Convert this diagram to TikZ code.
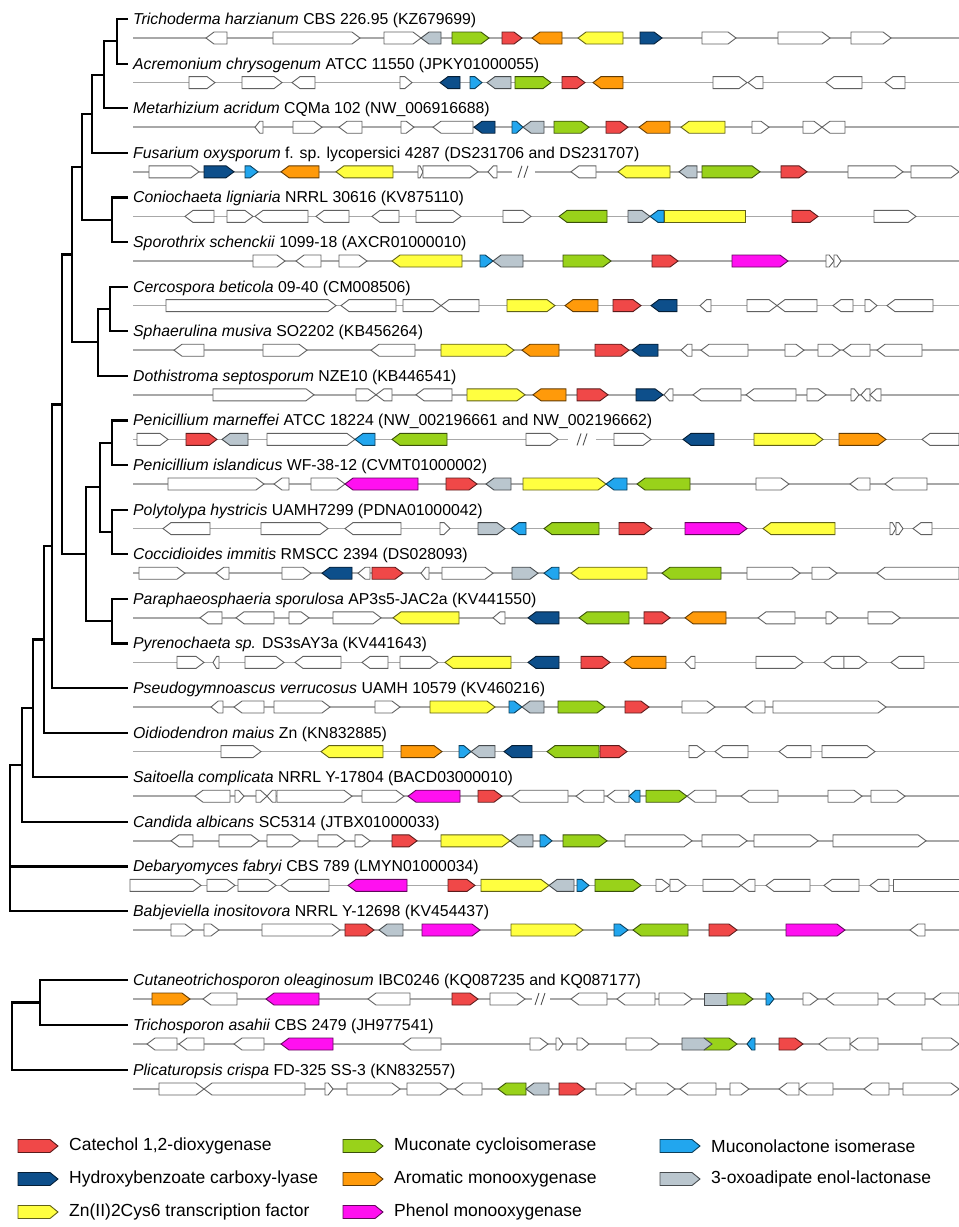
\documentclass[tikz,border=0pt]{standalone}
\usepackage{fontspec}
\setmainfont{Liberation Sans}
\definecolor{cRed}{HTML}{F04848}
\definecolor{cGrn}{HTML}{99D21A}
\definecolor{cOrg}{HTML}{FF9A0A}
\definecolor{cYel}{HTML}{FFFF40}
\definecolor{cDbl}{HTML}{0D4F8B}
\definecolor{cLbl}{HTML}{22A6EE}
\definecolor{cGry}{HTML}{BAC6CE}
\definecolor{cMag}{HTML}{FF10F0}
\definecolor{cOut}{HTML}{4D4D4D}
\definecolor{cLine}{HTML}{A8A8A8}
\tikzset{
 gene/.style={line width=0.9pt,line join=miter},
 bb/.style={draw=cLine,line width=1.6pt},
 sl/.style={draw=cOut,line width=0.9pt},
 tree/.style={draw=black,line width=2.2pt,line join=miter},
 lab/.style={anchor=base west,inner sep=0pt,font=\fontsize{15.8}{18}\selectfont},
 leg/.style={anchor=west,inner sep=0pt,font=\fontsize{17.5}{20}\selectfont},
}
\newcommand\GR[3]{\pgfmathsetmacro\gtip{min(8,0.6*(#2-#1))}%
 \filldraw[gene,fill=#3,draw=#3!38!black] (#1,\Y-6) -- ({#2-\gtip},\Y-6) -- (#2,\Y) -- ({#2-\gtip},\Y+6) -- (#1,\Y+6) -- cycle;}
\newcommand\GL[3]{\pgfmathsetmacro\gtip{min(8,0.6*(#2-#1))}%
 \filldraw[gene,fill=#3,draw=#3!38!black] (#2,\Y-6) -- ({#1+\gtip},\Y-6) -- (#1,\Y) -- ({#1+\gtip},\Y+6) -- (#2,\Y+6) -- cycle;}
\newcommand\GB[3]{\filldraw[gene,fill=#3,draw=#3!38!black] (#1,\Y-6) rectangle (#2,\Y+6);}
\newcommand\BL[2]{\draw[bb] (#1,\Y) -- (#2,\Y);}
\newcommand\SL[1]{\draw[sl] ({#1-5},\Y+6) -- ({#1-1},\Y-6) ({#1+1},\Y+6) -- ({#1+5},\Y-6);}
\newcommand\LB[3]{\node[lab] (t#1) at (133,#2-13.5) {#3};\coordinate (l#1) at (128,#2-19);}
\newcommand\LG[4]{\def\Y{#2}\filldraw[gene,fill=#3,draw=#3!38!black] (#1,\Y-6.5) -- (#1+32,\Y-6.5) -- (#1+40,\Y) -- (#1+32,\Y+6.5) -- (#1,\Y+6.5) -- cycle;
 \node[leg] at (#1+51,#2) {#4};}
\begin{document}
\begin{tikzpicture}[x=1pt,y=-1pt]
\useasboundingbox (0,0) rectangle (959,1227);
\fill[white] (0,0) rectangle (959,1227);
% ---------- labels ----------
\LB{0}{38}{\textit{Trichoderma harzianum} CBS 226.95 (KZ679699)}
\LB{1}{82.6}{\textit{Acremonium chrysogenum} ATCC 11550 (JPKY01000055)}
\LB{2}{127.2}{\textit{Metarhizium acridum} CQMa 102 (NW\_006916688)}
\LB{3}{171.8}{\textit{Fusarium oxysporum} f. sp. lycopersici 4287 (DS231706 and DS231707)}
\LB{4}{216.4}{\textit{Coniochaeta ligniaria} NRRL 30616 (KV875110)}
\LB{5}{261}{\textit{Sporothrix schenckii} 1099-18 (AXCR01000010)}
\LB{6}{305.6}{\textit{Cercospora beticola} 09-40 (CM008506)}
\LB{7}{350.2}{\textit{Sphaerulina musiva} SO2202 (KB456264)}
\LB{8}{394.8}{\textit{Dothistroma septosporum} NZE10 (KB446541)}
\LB{9}{439.4}{\textit{Penicillium marneffei} ATCC 18224 (NW\_002196661 and NW\_002196662)}
\LB{10}{484}{\textit{Penicillium islandicus} WF-38-12 (CVMT01000002)}
\LB{11}{528.6}{\textit{Polytolypa hystricis} UAMH7299 (PDNA01000042)}
\LB{12}{573.2}{\textit{Coccidioides immitis} RMSCC 2394 (DS028093)}
\LB{13}{617.8}{\textit{Paraphaeosphaeria sporulosa} AP3s5-JAC2a (KV441550)}
\LB{14}{662.4}{\textit{Pyrenochaeta sp.} DS3sAY3a (KV441643)}
\LB{15}{707}{\textit{Pseudogymnoascus verrucosus} UAMH 10579 (KV460216)}
\LB{16}{751.6}{\textit{Oidiodendron maius} Zn (KN832885)}
\LB{17}{796.2}{\textit{Saitoella complicata} NRRL Y-17804 (BACD03000010)}
\LB{18}{840.8}{\textit{Candida albicans} SC5314 (JTBX01000033)}
\LB{19}{885.4}{\textit{Debaryomyces fabryi} CBS 789 (LMYN01000034)}
\LB{20}{930}{\textit{Babjeviella inositovora} NRRL Y-12698 (KV454437)}
\LB{21}{999}{\textit{Cutaneotrichosporon oleaginosum} IBC0246 (KQ087235 and KQ087177)}
\LB{22}{1044}{\textit{Trichosporon asahii} CBS 2479 (JH977541)}
\LB{23}{1089}{\textit{Plicaturopsis crispa} FD-325 SS-3 (KN832557)}
% ---------- tree ----------
\coordinate (a01) at (117,41.3);
\coordinate (a012) at (104,74.75);
\coordinate (a0123) at (92,113.8);
\coordinate (a45) at (112,219.7);
\coordinate (aS) at (82,166.75);
\coordinate (a67) at (110,308.9);
\coordinate (a678) at (98,342.35);
\coordinate (aSD) at (72,254.55);
\coordinate (a910) at (112,442.7);
\coordinate (a1112) at (112,531.9);
\coordinate (aE) at (100,487.3);
\coordinate (a1314) at (112,621.1);
\coordinate (aE2) at (86,554.2);
\coordinate (aP) at (62,404.4);
\coordinate (a15) at (52,546.2);
\coordinate (a16) at (44,639.4);
\coordinate (a17) at (33,708.3);
\coordinate (a18) at (22,765);
\coordinate (root) at (10,866.4);
\coordinate (b2122) at (40,1002.5);
\coordinate (broot) at (12,1036.25);
\draw[tree] (l0) -| (a01) |- (l1);
\draw[tree] (a01) -| (a012) |- (l2);
\draw[tree] (a012) -| (a0123) |- (l3);
\draw[tree] (l4) -| (a45) |- (l5);
\draw[tree] (a0123) -| (aS) |- (a45);
\draw[tree] (l6) -| (a67) |- (l7);
\draw[tree] (a67) -| (a678) |- (l8);
\draw[tree] (aS) -| (aSD) |- (a678);
\draw[tree] (l9) -| (a910) |- (l10);
\draw[tree] (l11) -| (a1112) |- (l12);
\draw[tree] (a910) -| (aE) |- (a1112);
\draw[tree] (l13) -| (a1314) |- (l14);
\draw[tree] (aE) -| (aE2) |- (a1314);
\draw[tree] (aSD) -| (aP) |- (aE2);
\draw[tree] (aP) -| (a15) |- (l15);
\draw[tree] (a15) -| (a16) |- (l16);
\draw[tree] (a16) -| (a17) |- (l17);
\draw[tree] (a17) -| (a18) |- (l18);
\draw[tree] (a18) -| (root) |- (l20);
\draw[tree] (root) -- (l19);
\draw[tree] (l21) -| (b2122) |- (l22);
\draw[tree] (b2122) -| (broot) |- (l23);
% ---------- rows ----------
\def\Y{38}\BL{133}{959}
\GL{206}{227}{white}\GR{273}{360}{white}\GR{384}{421}{white}\GL{421}{441}{cGry}
\GR{452}{489}{cGrn}\GR{502}{522}{cRed}\GL{532}{562}{cOrg}\GL{578}{623}{cYel}
\GR{640}{662}{cDbl}\GR{702}{736}{white}\GR{778}{830}{white}\GR{851}{891}{white}
\def\Y{82.6}\BL{133}{959}
\GR{189}{215}{white}\GR{242}{282}{white}\GL{292}{315}{white}\GR{400}{412}{white}
\GL{440}{460}{cDbl}\GR{470}{482}{cLbl}\GL{487}{511}{cGry}\GR{515}{551}{cGrn}
\GR{562}{585}{cRed}\GL{593}{623}{cOrg}\GR{713}{747}{white}\GL{748}{763}{white}
\GL{826}{862}{white}\GL{885}{905}{white}
\def\Y{127.2}\BL{133}{959}
\GL{255}{263}{white}\GR{293}{322}{white}\GL{339}{362}{white}\GR{401}{414}{white}
\GL{433}{473}{white}\GL{474}{495}{cDbl}\GR{512}{523}{cLbl}\GL{523}{544}{cGry}
\GR{554}{589}{cGrn}\GR{606}{628}{cRed}\GL{639}{670}{cOrg}\GL{681}{725}{cYel}
\GR{752}{769}{white}\GR{803}{822}{white}\GL{822}{845}{white}
\def\Y{171.8}\BL{133}{512}\BL{535}{959}\SL{523}
\GR{149}{199}{white}\GR{204}{234}{cDbl}\GR{245}{258}{cLbl}\GL{281}{319}{cOrg}
\GL{336}{393}{cYel}\GR{418}{423}{white}\GR{423}{478}{white}\GL{488}{497}{white}
\GL{571}{596}{white}\GL{618}{670}{cYel}\GL{679}{697}{cGry}\GR{702}{760}{cGrn}
\GR{781}{807}{cRed}\GR{848}{903}{white}\GR{911}{959}{white}
\def\Y{216.4}\BL{133}{959}
\GL{185}{214}{white}\GR{227}{253}{white}\GL{255}{308}{white}\GL{316}{349}{white}
\GL{372}{399}{white}\GR{416}{461}{white}\GR{503}{531}{white}\GL{559}{607}{cGrn}
\GR{628}{650}{cGry}\GL{650}{664}{cLbl}\GB{664}{745}{cYel}\GR{792}{818}{cRed}
\GR{874}{916}{white}
\def\Y{261}\BL{133}{959}
\GR{253}{285}{white}\GL{296}{321}{white}\GR{339}{367}{white}\GL{392}{462}{cYel}
\GR{480}{493}{cLbl}\GL{493}{523}{cGry}\GR{563}{611}{cGrn}\GR{652}{678}{cRed}
\GR{732}{788}{cMag}\GR{826}{834}{white}\GR{834}{841}{white}
\def\Y{305.6}\BL{133}{959}
\GR{166}{336}{white}\GL{341}{396}{white}\GR{403}{441}{white}\GL{441}{479}{white}
\GR{507}{555}{cYel}\GL{565}{598}{cOrg}\GR{613}{641}{cRed}\GL{651}{677}{cDbl}
\GL{700}{711}{white}\GR{747}{777}{white}\GL{777}{817}{white}\GL{833}{853}{white}
\GR{865}{877}{white}\GL{887}{933}{white}
\def\Y{350.2}\BL{133}{959}
\GL{174}{204}{white}\GR{263}{307}{white}\GL{371}{415}{white}\GR{441}{514}{cYel}
\GL{522}{559}{cOrg}\GR{595}{629}{cRed}\GL{632}{658}{cDbl}\GL{681}{692}{white}
\GL{701}{748}{white}\GR{785}{804}{white}\GR{818}{840}{white}\GL{843}{870}{white}
\GL{877}{922}{white}
\def\Y{394.8}\BL{133}{959}
\GR{213}{314}{white}\GR{356}{376}{white}\GL{376}{392}{white}\GL{416}{452}{white}
\GR{467}{525}{cYel}\GL{533}{566}{cOrg}\GR{577}{608}{cRed}\GR{636}{663}{cDbl}
\GL{664}{673}{white}\GL{693}{741}{white}\GL{746}{796}{white}\GR{807}{826}{white}
\GR{851}{859}{white}\GL{861}{870}{white}\GL{870}{881}{white}
\def\Y{439.4}\BL{133}{568}\BL{596}{959}\SL{582}
\GR{137}{168}{white}\GR{186}{217}{cRed}\GL{222}{248}{cGry}\GR{267}{355}{white}
\GL{355}{375}{cLbl}\GL{392}{447}{cGrn}\GR{526}{558}{white}\GR{614}{651}{white}
\GL{683}{714}{cDbl}\GR{754}{823}{cYel}\GR{839}{886}{cOrg}\GL{922}{959}{white}
\def\Y{484}\BL{133}{959}
\GR{168}{264}{white}\GL{274}{289}{white}\GR{311}{345}{white}\GL{345}{418}{cMag}
\GR{446}{477}{cRed}\GL{486}{511}{cGry}\GR{523}{606}{cYel}\GL{606}{627}{cLbl}
\GL{637}{690}{cGrn}\GR{756}{789}{white}\GL{850}{870}{white}\GL{885}{927}{white}
\def\Y{528.6}\BL{133}{959}
\GL{163}{210}{white}\GR{261}{328}{white}\GL{345}{401}{white}\GR{440}{450}{white}
\GR{478}{505}{cGry}\GL{511}{526}{cLbl}\GL{544}{599}{cGrn}\GR{619}{652}{cRed}
\GR{685}{747}{cMag}\GL{763}{835}{cYel}\GR{890}{896}{white}\GR{896}{903}{white}
\GL{913}{932}{white}
\def\Y{573.2}\BL{133}{959}
\GR{139}{185}{white}\GL{216}{229}{white}\GR{282}{311}{white}\GL{322}{352}{cDbl}
\GL{358}{370}{white}\GR{372}{403}{cRed}\GL{421}{429}{white}\GR{442}{493}{white}
\GR{512}{538}{cGry}\GL{544}{559}{cLbl}\GL{571}{647}{cYel}\GL{662}{721}{cGrn}
\GR{747}{800}{white}\GR{812}{837}{white}\GL{877}{959}{white}
\def\Y{617.8}\BL{133}{959}
\GL{200}{222}{white}\GL{236}{274}{white}\GR{289}{309}{white}\GR{333}{381}{white}
\GL{393}{459}{cYel}\GL{493}{505}{white}\GL{528}{559}{cDbl}\GL{579}{629}{cGrn}
\GR{644}{670}{cRed}\GL{685}{726}{cOrg}\GL{758}{795}{white}\GR{826}{838}{white}
\GR{868}{900}{white}
\def\Y{662.4}\BL{133}{959}
\GR{177}{204}{white}\GL{213}{219}{white}\GR{245}{284}{white}\GL{295}{341}{white}
\GL{362}{388}{white}\GR{400}{438}{white}\GL{445}{511}{cYel}\GL{528}{559}{cDbl}
\GR{581}{610}{cRed}\GL{624}{666}{cOrg}\GL{685}{695}{white}\GR{756}{803}{white}
\GL{824}{844}{white}\GR{844}{867}{white}\GL{891}{924}{white}
\def\Y{707}\BL{133}{959}
\GL{211}{223}{white}\GL{234}{264}{white}\GR{274}{330}{white}\GR{375}{400}{white}
\GR{430}{495}{cYel}\GR{509}{522}{cLbl}\GL{522}{544}{cGry}\GR{558}{605}{cGrn}
\GR{625}{649}{cRed}\GR{682}{715}{white}\GL{745}{765}{white}\GR{773}{886}{white}
\def\Y{751.6}\BL{133}{959}
\GR{221}{261}{white}\GL{321}{383}{cYel}\GR{401}{442}{cOrg}\GR{459}{471}{cLbl}
\GL{471}{495}{cGry}\GL{504}{532}{cDbl}\GL{547}{599}{cGrn}\GR{600}{627}{cRed}
\GR{689}{705}{white}\GL{715}{748}{white}\GL{779}{811}{white}\GR{822}{875}{white}
\def\Y{796.2}\BL{133}{959}
\GL{195}{230}{white}\GR{235}{244}{white}\GR{256}{267}{white}\GL{267}{276}{white}
\GR{277}{352}{white}\GR{362}{404}{white}\GL{408}{460}{cMag}\GR{478}{502}{cRed}
\GL{512}{568}{white}\GL{576}{604}{white}\GL{607}{629}{white}\GL{629}{640}{cLbl}
\GR{646}{687}{cGrn}\GL{687}{716}{white}\GL{741}{778}{white}\GR{828}{862}{white}
\GR{871}{905}{white}
\def\Y{840.8}\BL{133}{959}
\GL{171}{193}{white}\GR{219}{259}{white}\GR{267}{300}{white}\GR{318}{345}{white}
\GR{355}{370}{white}\GR{392}{417}{cRed}\GR{441}{510}{cYel}\GL{510}{533}{cGry}
\GR{540}{552}{cLbl}\GR{563}{607}{cGrn}\GR{625}{692}{white}\GR{702}{747}{white}
\GR{754}{818}{white}\GR{833}{926}{white}
\def\Y{885.4}\BL{133}{959}
\GR{130}{201}{white}\GR{207}{235}{white}\GR{238}{276}{white}\GL{281}{329}{white}
\GL{348}{407}{cMag}\GR{448}{475}{cRed}\GR{481}{549}{cYel}\GL{549}{574}{cGry}
\GR{577}{589}{cLbl}\GR{595}{641}{cGrn}\GR{656}{670}{white}\GR{670}{686}{white}
\GR{703}{741}{white}\GL{741}{755}{white}\GL{766}{810}{white}\GL{824}{859}{white}
\GL{870}{889}{white}\GB{893}{959}{white}
\def\Y{930}\BL{133}{959}
\GR{171}{193}{white}\GR{204}{219}{white}\GR{262}{340}{white}\GR{345}{374}{cRed}
\GL{379}{403}{cGry}\GR{422}{480}{cMag}\GR{511}{583}{cYel}\GR{614}{628}{cLbl}
\GL{633}{688}{cGrn}\GR{709}{737}{cRed}\GR{786}{845}{cMag}\GL{910}{925}{white}
\def\Y{999}\BL{133}{532}\BL{550}{959}\SL{540}
\GR{152}{190}{cOrg}\GL{203}{237}{white}\GL{266}{319}{cMag}\GL{368}{410}{white}
\GR{452}{478}{cRed}\GR{490}{525}{white}\GL{571}{607}{white}\GL{617}{655}{white}
\GR{659}{692}{white}\GB{704}{727}{cGry}\GR{727}{753}{cGrn}\GR{766}{774}{cLbl}
\GR{803}{818}{white}\GL{826}{878}{white}\GL{887}{925}{white}\GL{933}{959}{white}
\def\Y{1044}\BL{133}{959}
\GL{147}{177}{white}\GL{179}{204}{white}\GL{234}{264}{white}\GL{281}{333}{cMag}
\GL{403}{441}{white}\GR{530}{548}{white}\GR{556}{563}{white}\GR{577}{589}{white}
\GR{626}{659}{white}\GR{704}{737}{cGrn}\GR{682}{712}{cGry}\GL{747}{755}{cLbl}
\GR{779}{803}{cRed}\GL{819}{850}{white}\GL{850}{878}{white}\GR{922}{959}{white}
\def\Y{1089}\BL{133}{959}
\GR{159}{204}{white}\GL{204}{305}{white}\GR{325}{333}{white}\GR{347}{400}{white}
\GR{407}{448}{white}\GL{455}{482}{white}\GL{498}{526}{cGrn}\GL{526}{549}{cGry}
\GR{559}{585}{cRed}\GR{596}{632}{white}\GR{636}{675}{white}\GL{680}{716}{white}
\GR{730}{749}{white}\GL{779}{799}{white}\GL{799}{833}{white}\GL{864}{889}{white}
\GR{903}{959}{white}
% ---------- legend ----------
\LG{18}{1146}{cRed}{Catechol 1,2-dioxygenase}
\LG{343}{1146}{cGrn}{Muconate cycloisomerase}
\LG{660}{1146}{cLbl}{Muconolactone isomerase}
\LG{18}{1179}{cDbl}{Hydroxybenzoate carboxy-lyase}
\LG{343}{1179}{cOrg}{Aromatic monooxygenase}
\LG{660}{1179}{cGry}{3-oxoadipate enol-lactonase}
\LG{18}{1212}{cYel}{Zn(II)2Cys6 transcription factor}
\LG{343}{1212}{cMag}{Phenol monooxygenase}
\end{tikzpicture}
\end{document}
